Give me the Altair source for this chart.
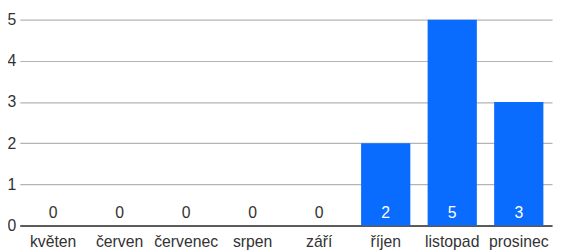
import altair as alt
import pandas as pd

months = ["květen", "červen", "červenec", "srpen", "září", "říjen", "listopad", "prosinec"]
counts = [0, 0, 0, 0, 0, 2, 5, 3]

df = pd.DataFrame({"month": months, "count": counts})
df["label_color"] = ["#ffffff" if c > 0 else "#333333" for c in counts]

FONT = "Liberation Sans"
FS = 16

x = alt.X("month:N", sort=months, title=None,
          scale=alt.Scale(paddingInner=0.26, paddingOuter=0.13),
          axis=alt.Axis(labelAngle=0, ticks=False, domain=True, domainColor="#333333",
                        domainWidth=1.5, labelPadding=8, labelFontSize=FS, labelColor="#333333",
                        labelFont=FONT, grid=False))
y = alt.Y("count:Q", title=None, scale=alt.Scale(domain=[0, 5], nice=False),
          axis=alt.Axis(values=[0, 1, 2, 3, 4, 5], ticks=False, domain=False, labelPadding=4,
                        labelFontSize=FS, labelColor="#333333", labelFont=FONT,
                        gridColor="#b4b4b4", gridWidth=1.2))

bars = alt.Chart(df).mark_bar(color="#0a6cff").encode(x=x, y=y)

labels = alt.Chart(df).mark_text(font=FONT, fontSize=FS, baseline="alphabetic", dy=-8).encode(
    x=alt.X("month:N", sort=months),
    y=alt.datum(0),
    text="count:Q",
    color=alt.Color("label_color:N", scale=None),
)

chart = (bars + labels).properties(
    width=540, height=209,
    autosize=alt.AutoSizeParams(type="none"),
    padding={"left": 12, "top": 10, "right": 2, "bottom": 27},
).configure_view(stroke=None)

chart.save("out.html", embed_options={"renderer": "svg", "actions": False})
